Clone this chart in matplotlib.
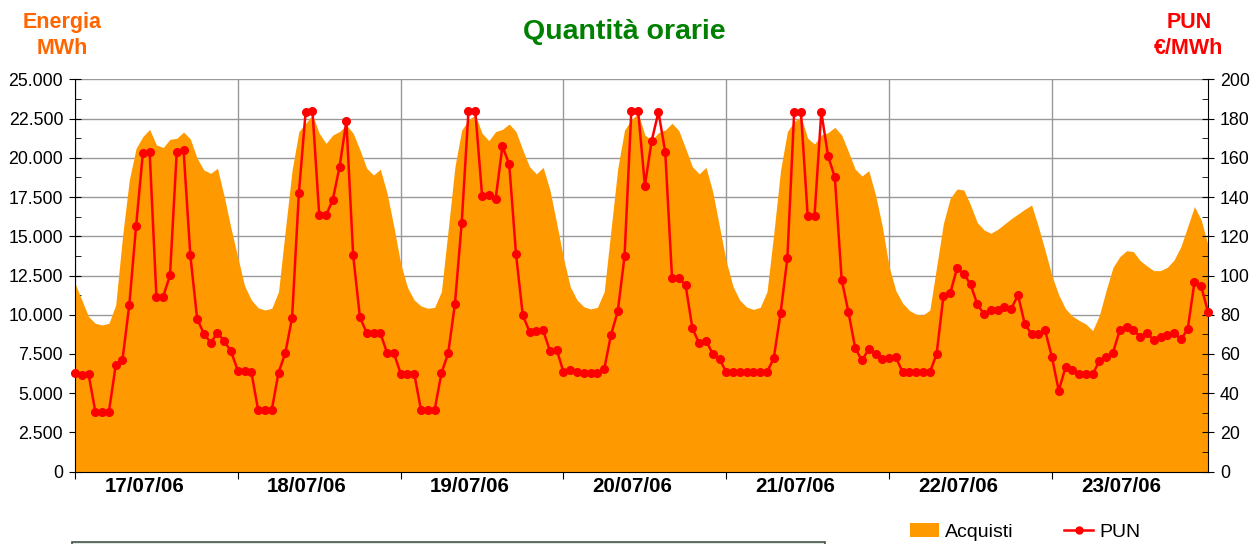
"""Quantita orarie: hourly purchases (MWh) and PUN price (EUR/MWh), 17-23/07/06"""

import matplotlib
matplotlib.use("Agg")
import matplotlib.pyplot as plt
import numpy as np
from matplotlib.lines import Line2D
from matplotlib.patches import Patch, Rectangle
from matplotlib.ticker import FixedLocator, FuncFormatter, MultipleLocator

plt.rcParams["font.family"] = ["Liberation Sans", "DejaVu Sans"]

days = ["17/07/06", "18/07/06", "19/07/06", "20/07/06", "21/07/06", "22/07/06", "23/07/06"]

# hourly purchases, MWh (one row per half day)
acquisti = [
    12000, 10940, 9880, 9450, 9350, 9450, 10620, 14970, 18580, 20600, 21350, 21810,
    20820, 20650, 21180, 21240, 21640, 21200, 19970, 19220, 19010, 19330, 17520, 15500,
    13650, 11840, 10940, 10440, 10300, 10410, 11470, 15400, 19220, 21670, 22200, 22730,
    21560, 20920, 21450, 21670, 22090, 21560, 20500, 19330, 18900, 19270, 17740, 15610,
    13270, 11740, 10940, 10560, 10410, 10470, 11470, 15400, 19430, 21770, 22410, 22730,
    21560, 21090, 21670, 21810, 22150, 21670, 20500, 19430, 18970, 19390, 17950, 15820,
    13600, 11790, 10940, 10510, 10370, 10470, 11470, 15400, 19330, 21770, 22410, 22830,
    21450, 21130, 21600, 21770, 22200, 21730, 20600, 19430, 18970, 19390, 17840, 15610,
    13380, 11790, 10920, 10490, 10340, 10470, 11470, 15190, 19220, 21670, 22300, 22620,
    21240, 20880, 21450, 21600, 21940, 21450, 20390, 19270, 18840, 19180, 17630, 15610,
    13060, 11520, 10730, 10270, 10030, 9980, 10300, 13060, 15820, 17420, 18010, 17950,
    16990, 15870, 15400, 15190, 15440, 15780, 16120, 16420, 16720, 16990, 15610, 14070,
    12480, 11260, 10380, 9920, 9640, 9410, 8990, 9980, 11580, 13020, 13700, 14080,
    14020, 13450, 13110, 12810, 12810, 13020, 13490, 14340, 15610, 16890, 16040, 14440,
]

# hourly PUN, EUR/MWh
pun = [
    50.5, 49.3, 49.6, 30.6, 30.2, 30.6, 54.2, 57.1, 85.0, 125.0, 162.3, 163.1,
    89.2, 89.2, 100.1, 163.1, 164.0, 110.3, 78.0, 70.3, 65.8, 70.7, 66.6, 61.3,
    51.5, 51.5, 50.6, 31.4, 31.4, 31.4, 50.5, 60.5, 78.5, 142.2, 183.5, 184.0,
    130.7, 130.7, 138.6, 155.5, 178.6, 110.3, 78.7, 70.7, 70.7, 70.7, 60.5, 60.5,
    50.0, 50.0, 50.0, 31.4, 31.3, 31.3, 50.1, 60.3, 85.5, 126.9, 184.0, 184.0,
    140.7, 141.0, 139.1, 165.8, 156.8, 111.1, 79.7, 71.4, 71.7, 72.0, 61.7, 62.2,
    50.8, 51.6, 50.8, 50.5, 50.5, 50.5, 52.2, 69.7, 81.7, 109.8, 184.0, 184.0,
    145.8, 168.7, 183.3, 162.9, 98.7, 98.7, 95.1, 73.1, 65.4, 66.8, 60.1, 57.3,
    50.8, 50.8, 50.8, 50.8, 50.8, 50.8, 50.8, 57.9, 80.9, 108.7, 183.3, 183.3,
    130.3, 130.3, 183.3, 160.9, 150.0, 97.9, 81.4, 63.0, 56.7, 62.5, 59.8, 57.4,
    57.8, 58.3, 50.6, 50.6, 50.6, 50.6, 50.6, 60.0, 89.5, 90.9, 103.6, 100.9,
    95.5, 85.3, 80.2, 82.4, 82.4, 83.9, 83.1, 90.0, 75.1, 70.3, 70.3, 72.0,
    58.3, 41.3, 53.2, 51.8, 49.6, 49.6, 49.6, 56.6, 58.3, 60.7, 72.2, 73.6,
    72.2, 68.8, 70.7, 67.1, 68.8, 69.7, 70.8, 67.5, 72.5, 96.5, 94.5, 81.4,
]

ORANGE = "#FF9900"
RED = "#FF0000"
GRID = "#999999"

if __name__ == "__main__":
    hours = np.arange(len(acquisti))

    W, H = 1259, 544
    fig = plt.figure(figsize=(W / 100, H / 100), dpi=100)
    ax = fig.add_axes([75 / W, 1 - 471.7 / H, (1208 - 75) / W, (471.7 - 79.3) / H])
    ax2 = ax.twinx()

    # energy area (left axis)
    ax.fill_between(hours, acquisti, color=ORANGE, linewidth=0, zorder=2)
    ax.set_xlim(0, len(hours) - 1)
    ax.set_ylim(0, 25000)
    ax.yaxis.set_major_locator(MultipleLocator(2500))
    ax.yaxis.set_minor_locator(MultipleLocator(1250))
    ax.yaxis.set_major_formatter(
        FuncFormatter(lambda v, p: f"{int(v):,}".replace(",", "."))
    )

    # day separators + day labels (Excel puts them a bit left of mid-day)
    ax.xaxis.set_major_locator(FixedLocator(np.arange(0, 168, 24)))
    ax.xaxis.set_minor_locator(FixedLocator(np.arange(0, 168, 24) + 10.2))
    ax.xaxis.set_minor_formatter(FuncFormatter(lambda v, p: days[int(v) // 24]))
    ax.tick_params(axis="x", which="major", direction="out", length=5,
                   labelbottom=False)
    ax.tick_params(axis="x", which="minor", length=0, labelsize=14.8, pad=4)
    for lab in ax.get_xticklabels(minor=True):
        lab.set_fontweight("bold")

    ax.tick_params(axis="y", which="major", direction="inout", length=9,
                   labelsize=12.8, pad=4)
    ax.tick_params(axis="y", which="minor", direction="in", length=4)

    ax.set_axisbelow(True)
    ax.grid(axis="both", which="major", color=GRID, linewidth=1)
    ax.spines["top"].set_visible(False)
    ax.spines["right"].set_visible(False)

    # price line (right axis)
    ax2.plot(hours, pun, "-o", color=RED, linewidth=1.8, markersize=5.5,
             clip_on=False, zorder=3)
    ax2.set_ylim(0, 200)
    ax2.yaxis.set_major_locator(MultipleLocator(20))
    ax2.yaxis.set_minor_locator(MultipleLocator(10))
    ax2.tick_params(axis="y", which="major", direction="inout", length=9,
                    labelsize=12.8, pad=4)
    ax2.tick_params(axis="y", which="minor", direction="in", length=4)
    for side in ["top", "left", "bottom"]:
        ax2.spines[side].set_visible(False)

    # titles
    fig.text(624 / W, 1 - 39 / H, "Quantità orarie", color="#008000",
             fontsize=20.5, fontweight="bold", ha="center", va="baseline")
    fig.text(62 / W, 1 - 28 / H, "Energia", color="#FF6600", fontsize=15.5,
             fontweight="bold", ha="center", va="baseline")
    fig.text(62 / W, 1 - 54 / H, "MWh", color="#FF6600", fontsize=15.5,
             fontweight="bold", ha="center", va="baseline")
    fig.text(1189 / W, 1 - 28 / H, "PUN", color=RED, fontsize=15.5,
             fontweight="bold", ha="center", va="baseline")
    fig.text(1189 / W, 1 - 54 / H, "€/MWh", color=RED, fontsize=15.5,
             fontweight="bold", ha="center", va="baseline")

    # legend
    handles = [
        Patch(facecolor=ORANGE, edgecolor="none"),
        Line2D([], [], color=RED, marker="o", markersize=5, linewidth=1.8),
    ]
    fig.legend(handles, ["Acquisti", "PUN"], loc="center",
               bbox_to_anchor=(1025 / W, 1 - 532 / H), ncol=2, frameon=False,
               fontsize=14, handlelength=1.5, handletextpad=0.3,
               columnspacing=2.6)

    # box peeking in at the bottom edge
    fig.patches.append(Rectangle((72 / W, -0.02), (825 - 72) / W, 0.02 + 2.5 / H,
                                 transform=fig.transFigure, facecolor="#E4E9E0",
                                 edgecolor="#44554A", linewidth=1.2))

    plt.savefig("out.png", dpi=100)
    plt.close()
